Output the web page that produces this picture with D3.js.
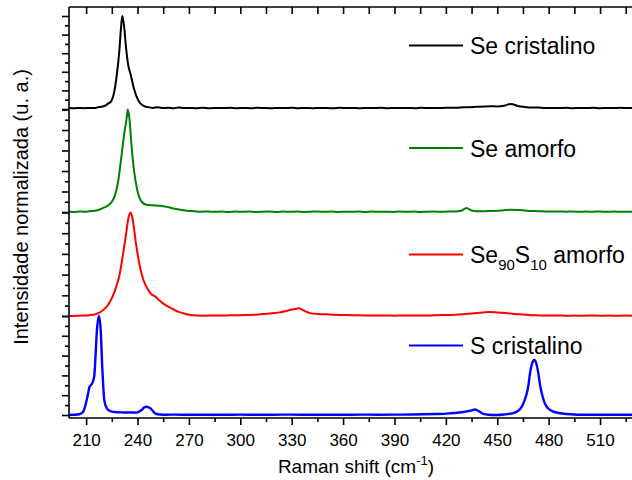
<!DOCTYPE html>
<html><head><meta charset="utf-8">
<script src="https://cdn.jsdelivr.net/npm/d3@7/dist/d3.min.js"></script>
<style>
html,body{margin:0;padding:0;background:#fff;}
svg{display:block;font-family:"Liberation Sans",Arial,sans-serif;}
</style></head>
<body>
<svg id="chart" width="632" height="480"></svg>
<script>
// ---------------- DATA ----------------
const seriesNames = ["Se cristalino", "Se amorfo", "Se90S10 amorfo", "S cristalino"];
const seriesColors = ["#000000", "#008000", "#ff0000", "#0000ff"];

const seCrisShift = [200,203,206,209,212,215,217,219,221,223,224.5,226,227.8,229.4,230.4,231.1,232.1,233.3,234.6,236,237.9,240.5,243.4,246,249,252,255,258,261,264,267,270,
  274,278,282,286,290,294,298,302,306,310,314,318,322,326,330,334,338,342,346,350,354,358,362,366,370,374,378,382,386,390,394,398,402,406,410,414,418,422,426,430,434,438,442,446,450,454,458,462,466,470,474,478,482,486,490,494,498,502,506,510,514,518,522,526,530];
const seCrisInt = [0.010,0.008,0.012,0.009,0.011,0.010,0.020,0.025,0.035,0.060,0.080,0.150,0.350,0.630,0.880,1.000,0.900,0.660,0.470,0.370,0.220,0.090,0.035,0.020,0.012,0.018,0.010,0.014,0.008,0.016,0.010,0.012,
  0.009,0.013,0.008,0.012,0.010,0.014,0.008,0.011,0.009,0.013,0.010,0.008,0.012,0.010,0.014,0.009,0.011,0.008,0.012,0.010,0.009,0.013,0.010,0.012,0.008,0.011,0.010,0.013,0.009,0.012,0.010,0.011,0.009,0.013,0.010,0.012,0.011,0.014,0.013,0.018,0.020,0.024,0.026,0.030,0.028,0.036,0.055,0.032,0.022,0.016,0.015,0.011,0.012,0.010,0.013,0.009,0.012,0.010,0.013,0.009,0.012,0.010,0.013,0.010,0.012];

const seAmShift = [200,203,206,209,212,215,218,220,222,224,225,226.9,228.8,230.8,232.3,233.7,234.3,235.2,236.6,237.9,239.9,242.4,245.3,249,253,257,261,265,269,273,277,281,
  285,289,293,297,301,305,309,313,317,321,325,329,333,337,341,345,349,353,357,361,365,369,373,377,381,385,389,393,397,401,405,409,413,417,421,425,429,432,435,438,442,446,450,454,458,462,466,470,474,478,482,486,490,494,498,502,506,510,514,518,522,526,530];
const seAmInt = [0.005,0.000,0.006,0.003,0.008,0.012,0.025,0.040,0.055,0.080,0.100,0.165,0.310,0.570,0.770,0.920,1.000,0.920,0.630,0.410,0.210,0.100,0.070,0.065,0.060,0.050,0.035,0.022,0.013,0.008,0.003,0.005,
  0.002,0.005,0.001,0.004,0.002,0.005,0.001,0.003,0.004,0.001,0.005,0.002,0.004,0.001,0.003,0.005,0.002,0.004,0.001,0.003,0.002,0.005,0.001,0.004,0.002,0.003,0.001,0.004,0.002,0.005,0.001,0.003,0.004,0.002,0.005,0.006,0.012,0.040,0.015,0.008,0.007,0.010,0.012,0.018,0.022,0.020,0.015,0.010,0.008,0.006,0.004,0.006,0.003,0.005,0.002,0.004,0.003,0.005,0.002,0.004,0.003,0.002,0.004];

const seSShift = [200,204,208,212,215.2,218,220,222,224,226.9,229.4,231.3,233.3,234.6,236,237.1,239.1,241,243.4,246.3,248,250.2,252.5,255.1,258,260.9,264,266.7,270,274.5,279,284,289,294,299,304,308,311.5,316,320,323.2,326,329,332,334,336,338,340.7,345,350.4,355,360,365,370,375,
  380,385,390,395,400,405,410,415,420,425,430,435,440,445,450,455,460,465,470,475,480,485,490,495,500,505,510,515,520,525,530];
const seSInt = [0.000,0.002,0.004,0.008,0.016,0.035,0.058,0.090,0.140,0.250,0.390,0.570,0.790,0.940,1.000,0.940,0.700,0.510,0.350,0.250,0.210,0.190,0.155,0.120,0.090,0.064,0.040,0.026,0.012,0.004,0.003,0.006,0.004,0.007,0.008,0.010,0.012,0.016,0.022,0.028,0.035,0.045,0.058,0.068,0.074,0.062,0.045,0.028,0.020,0.016,0.012,0.010,0.008,0.007,0.005,
  0.004,0.006,0.003,0.005,0.004,0.006,0.005,0.008,0.010,0.013,0.018,0.025,0.032,0.038,0.034,0.028,0.020,0.014,0.008,0.006,0.004,0.005,0.003,0.004,0.003,0.005,0.003,0.004,0.002,0.004,0.003];

const sCrisShift = [200,203,206,207.5,208.3,209.3,210.3,211.2,211.9,213.2,214.2,214.8,215.5,216.2,217.5,218.5,219.4,220.6,222,223.5,224.9,228,232,236,239.5,241,242.4,243.8,245,246.2,247.3,248.8,250.2,253.1,257,262,
  270,280,290,300,310,320,330,340,350,360,370,380,390,400,406.9,414,420.5,425,430.2,434,437,439,441.9,445,449.6,454,459.4,462,464.2,466,467.1,468.2,469.1,470.3,471.6,472.8,474,475,476,477.5,478.8,480.5,482.7,486,490.5,495,498.3,505,515,530];
const sCrisInt = [0.000,0.002,0.008,0.020,0.034,0.080,0.150,0.220,0.280,0.310,0.350,0.400,0.600,0.830,1.000,0.860,0.490,0.150,0.070,0.045,0.034,0.028,0.026,0.025,0.024,0.035,0.050,0.075,0.084,0.080,0.070,0.045,0.017,0.005,0.003,0.004,
  0.002,0.003,0.002,0.004,0.002,0.003,0.004,0.002,0.003,0.002,0.004,0.003,0.004,0.005,0.007,0.010,0.014,0.020,0.030,0.042,0.055,0.040,0.012,0.003,0.000,0.005,0.020,0.040,0.080,0.150,0.210,0.300,0.420,0.520,0.556,0.520,0.420,0.300,0.220,0.130,0.084,0.055,0.034,0.020,0.010,0.005,0.003,0.002,0.003,0.002];

const xTickValues = [210,240,270,300,330,360,390,420,450,480,510];
const xMinorTickValues = [225,255,285,315,345,375,405,435,465,495,525];
const yMajorTickValues = [0,0.2,0.4,0.6,0.8,1.0];
const yMinorTickValues = [0.1,0.3,0.5,0.7,0.9];

// ---------------- LAYOUT ----------------
const plotLeft = 69, plotTop = 7, plotBottom = 418;
const svg = d3.select("#chart");
const x = d3.scaleLinear().domain([200, 530]).range([69, 634.3]);

// each spectrum sits in its own stacked band (value 0 -> baseline, 1 -> peak)
const bands = [[109, 16], [212, 109.5], [316, 212.5], [415, 316]];
const yScales = bands.map(b => d3.scaleLinear().domain([0, 1]).range(b));

const seriesData = [
  [seCrisShift, seCrisInt],
  [seAmShift, seAmInt],
  [seSShift, seSInt],
  [sCrisShift, sCrisInt]
];
const widths = [2, 2, 2, 2.4];

svg.append("clipPath").attr("id", "clip").append("rect")
  .attr("x", plotLeft).attr("y", plotTop).attr("width", 632 - plotLeft).attr("height", plotBottom - plotTop);

const plot = svg.append("g").attr("clip-path", "url(#clip)");
seriesData.forEach((sd, i) => {
  const pts = sd[0].map((s, j) => [s, sd[1][j]]);
  const line = d3.line().x(d => x(d[0])).y(d => yScales[i](d[1])).curve(d3.curveMonotoneX);
  plot.append("path").datum(pts)
    .attr("d", line).attr("fill", "none")
    .attr("stroke", seriesColors[i]).attr("stroke-width", widths[i])
    .attr("stroke-linejoin", "round");
});

// ---------------- AXES ----------------
const axisStroke = 1.6;
function styleAxis(g) {
  g.select(".domain").remove();
  g.selectAll(".tick line").attr("stroke", "#000").attr("stroke-width", axisStroke);
}

yScales.forEach(ys => {
  svg.append("g").attr("transform", `translate(${plotLeft},0)`)
    .call(d3.axisLeft(ys).tickValues(yMajorTickValues).tickSize(7).tickFormat(""))
    .call(styleAxis);
  svg.append("g").attr("transform", `translate(${plotLeft},0)`)
    .call(d3.axisLeft(ys).tickValues(yMinorTickValues).tickSize(4).tickFormat(""))
    .call(styleAxis);
});

const gx = svg.append("g").attr("transform", `translate(0,${plotBottom})`)
  .call(d3.axisBottom(x).tickValues(xTickValues).tickSize(7).tickPadding(9).tickFormat(d3.format("d")))
  .call(styleAxis);
gx.selectAll("text").attr("font-size", 17).attr("fill", "#000")
  .attr("font-family", "'Liberation Sans', Arial, sans-serif");
svg.append("g").attr("transform", `translate(0,${plotBottom})`)
  .call(d3.axisBottom(x).tickValues(xMinorTickValues).tickSize(4).tickFormat(""))
  .call(styleAxis);

svg.append("g").attr("transform", `translate(0,${plotTop})`)
  .call(d3.axisBottom(x).tickValues(xTickValues.concat(xMinorTickValues)).tickSize(7).tickFormat(""))
  .call(styleAxis);

svg.append("line").attr("x1", plotLeft).attr("x2", plotLeft).attr("y1", plotTop).attr("y2", plotBottom)
  .attr("stroke", "#000").attr("stroke-width", axisStroke);
svg.append("line").attr("x1", plotLeft).attr("x2", 632).attr("y1", plotBottom).attr("y2", plotBottom)
  .attr("stroke", "#000").attr("stroke-width", axisStroke);
svg.append("line").attr("x1", plotLeft).attr("x2", 632).attr("y1", plotTop).attr("y2", plotTop)
  .attr("stroke", "#000").attr("stroke-width", axisStroke);

const xt = svg.append("text").attr("x", 356).attr("y", 473).attr("text-anchor", "middle")
  .attr("font-size", 19).attr("fill", "#000");
xt.append("tspan").text("Raman shift (cm");
xt.append("tspan").attr("dy", -8).attr("font-size", 13).text("-1");
xt.append("tspan").attr("dy", 8).text(")");

svg.append("text").attr("transform", "translate(28,207) rotate(-90)")
  .attr("text-anchor", "middle").attr("font-size", 20).attr("fill", "#000")
  .text("Intensidade normalizada (u. a.)");

// ---------------- LEGEND ----------------
const legendBaselines = [54, 156.5, 263, 354];
seriesNames.forEach((name, i) => {
  const yb = legendBaselines[i];
  svg.append("line").attr("x1", 409).attr("x2", 463).attr("y1", yb - 8.5).attr("y2", yb - 8.5)
    .attr("stroke", seriesColors[i]).attr("stroke-width", 2);
  const t = svg.append("text").attr("x", 470).attr("y", yb).attr("font-size", 23).attr("fill", "#000");
  const m = name.match(/^Se(\d+)S(\d+)(.*)$/);
  if (m) {
    t.append("tspan").text("Se");
    t.append("tspan").attr("dy", 7).attr("font-size", 15).text(m[1]);
    t.append("tspan").attr("dy", -7).text("S");
    t.append("tspan").attr("dy", 7).attr("font-size", 15).text(m[2]);
    t.append("tspan").attr("dy", -7).text(m[3]);
  } else {
    t.text(name);
  }
});
</script>
</body></html>
